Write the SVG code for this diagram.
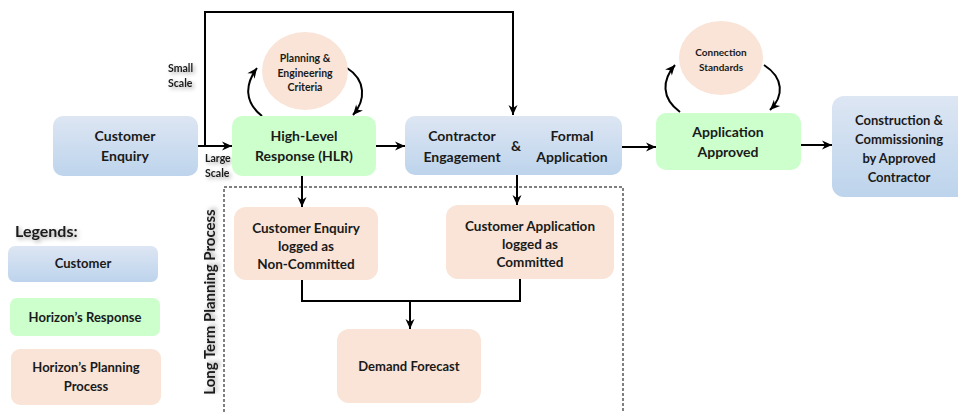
<svg xmlns="http://www.w3.org/2000/svg" width="958" height="412" viewBox="0 0 958 412">
<defs>
<linearGradient id="gBlue" x1="0" y1="0" x2="0" y2="1">
<stop offset="0" stop-color="#dde6f3"/>
<stop offset="1" stop-color="#bdd4ec"/>
</linearGradient>
<marker id="ah" markerUnits="userSpaceOnUse" markerWidth="12" markerHeight="12" refX="10" refY="5" orient="auto" overflow="visible">
<path d="M0,0.5 L10,5 L0,9.5 L3,5 Z" fill="#000"/>
</marker>
<filter id="glow" x="-20%" y="-40%" width="140%" height="180%">
<feGaussianBlur in="SourceAlpha" stdDeviation="2.2"/>
<feOffset dx="1.5" dy="1.5" result="b"/>
<feComponentTransfer><feFuncA type="linear" slope="0.35"/></feComponentTransfer>
<feMerge><feMergeNode/><feMergeNode in="SourceGraphic"/></feMerge>
</filter>
</defs>
<style>
text{font-family:Lato,"Open Sans","Liberation Sans",sans-serif;font-weight:bold;fill:#1a1a1a;text-anchor:middle}
.blue{fill:url(#gBlue)}
.green{fill:#ccffcc}
.peach{fill:#f9e4d7}
.t14{font-size:14px}
.t13{font-size:13px}
.t135{font-size:13.5px}
.t10{font-size:10.5px}
.lbl{font-size:10.5px;text-anchor:start;filter:url(#glow)}
.conn{fill:none;stroke:#000;stroke-width:2}
.arr{marker-end:url(#ah)}
.dash{fill:none;stroke:#000;stroke-width:1;stroke-dasharray:3,2}
</style>

<g id="connectors">
<path class="conn arr" d="M197,146 L232,146"/>
<path class="conn arr" d="M205,146 L205,12 L513,12 L513,115"/>
<path class="conn arr" d="M376,146 L405,146"/>
<path class="conn arr" d="M622,147 L656,147"/>
<path class="conn arr" d="M801,145 L832,145"/>
<path class="conn arr" d="M262,116 C244,102 245,84 257,68"/>
<path class="conn arr" d="M347,68 C366,80 366,100 353,115"/>
<path class="conn arr" d="M680,112 C661,98 662,80 675,65"/>
<path class="conn arr" d="M764,65 C784,78 784,96 770,110"/>
<path class="conn arr" d="M302,176 L302,207"/>
<path class="conn arr" d="M517,173 L517,205"/>
<path class="conn" d="M302,280 L302,301 L520,301 L520,279"/>
<path class="conn arr" d="M410,301 L410,329"/>
</g>

<g id="ltpp-boundary">
<path class="dash" d="M224,412 L224,187 L623,187 L623,412"/>
<text transform="translate(215,302) rotate(-90)" style="font-size:15px;filter:url(#glow)">Long Term Planning Process</text>
</g>

<g id="labels">
<text class="lbl" x="168" y="72">Small</text>
<text class="lbl" x="168" y="87">Scale</text>
<text class="lbl" x="205" y="162">Large</text>
<text class="lbl" x="205" y="177">Scale</text>
</g>

<g id="customer-enquiry">
<rect class="blue" x="53" y="116" width="145" height="60" rx="10"/>
<text class="t14" x="125" y="141">Customer</text>
<text class="t14" x="125" y="161">Enquiry</text>
</g>

<g id="hlr">
<rect class="green" x="232" y="116" width="144" height="60" rx="10"/>
<text class="t14" x="304" y="141">High-Level</text>
<text class="t14" x="304" y="161">Response (HLR)</text>
</g>

<g id="planning-criteria">
<ellipse class="peach" cx="305" cy="71" rx="43" ry="39"/>
<text class="t10" x="305" y="62">Planning &amp;</text>
<text class="t10" x="305" y="77">Engineering</text>
<text class="t10" x="305" y="91">Criteria</text>
</g>

<g id="contractor-formal">
<rect class="blue" x="405" y="116" width="217" height="59" rx="10"/>
<text class="t14" x="462" y="141">Contractor</text>
<text class="t14" x="462" y="162">Engagement</text>
<text class="t14" x="516" y="151">&amp;</text>
<text class="t14" x="572" y="141">Formal</text>
<text class="t14" x="572" y="162">Application</text>
</g>

<g id="connection-standards">
<ellipse class="peach" cx="721" cy="58" rx="42" ry="37"/>
<text x="721" y="56" style="font-size:10px">Connection</text>
<text x="721" y="71" style="font-size:10px">Standards</text>
</g>

<g id="application-approved">
<rect class="green" x="656" y="113" width="145" height="57" rx="10"/>
<text class="t14" x="728" y="137">Application</text>
<text class="t14" x="728" y="157">Approved</text>
</g>

<g id="construction">
<rect class="blue" x="832" y="96" width="140" height="101" rx="12"/>
<text class="t13" x="899" y="125">Construction &amp;</text>
<text class="t13" x="899" y="144">Commissioning</text>
<text class="t13" x="899" y="163">by Approved</text>
<text class="t13" x="899" y="182">Contractor</text>
</g>

<g id="ce-logged">
<rect class="peach" x="234" y="207" width="144" height="73" rx="12"/>
<text class="t135" x="306" y="233">Customer Enquiry</text>
<text class="t135" x="306" y="251">logged as</text>
<text class="t135" x="306" y="269">Non-Committed</text>
</g>

<g id="ca-logged">
<rect class="peach" x="446" y="205" width="168" height="74" rx="12"/>
<text class="t135" x="530" y="231">Customer Application</text>
<text class="t135" x="530" y="249">logged as</text>
<text class="t135" x="530" y="267">Committed</text>
</g>

<g id="demand-forecast">
<rect class="peach" x="337" y="329" width="144" height="74" rx="12"/>
<text class="t13" x="409" y="371">Demand Forecast</text>
</g>

<g id="legend">
<text x="15" y="237" style="font-size:16px;text-anchor:start;filter:url(#glow)">Legends:</text>
<g id="legend-customer">
<rect class="blue" x="8" y="246" width="150" height="36" rx="7"/>
<text class="t13" x="83" y="268">Customer</text>
</g>
<g id="legend-response">
<rect class="green" x="10" y="298" width="150" height="38" rx="7"/>
<text class="t13" x="85" y="322">Horizon’s Response</text>
</g>
<g id="legend-planning">
<rect class="peach" x="11" y="349" width="150" height="56" rx="9"/>
<text class="t13" x="86" y="372">Horizon’s Planning</text>
<text class="t13" x="86" y="391">Process</text>
</g>
</g>
</svg>
